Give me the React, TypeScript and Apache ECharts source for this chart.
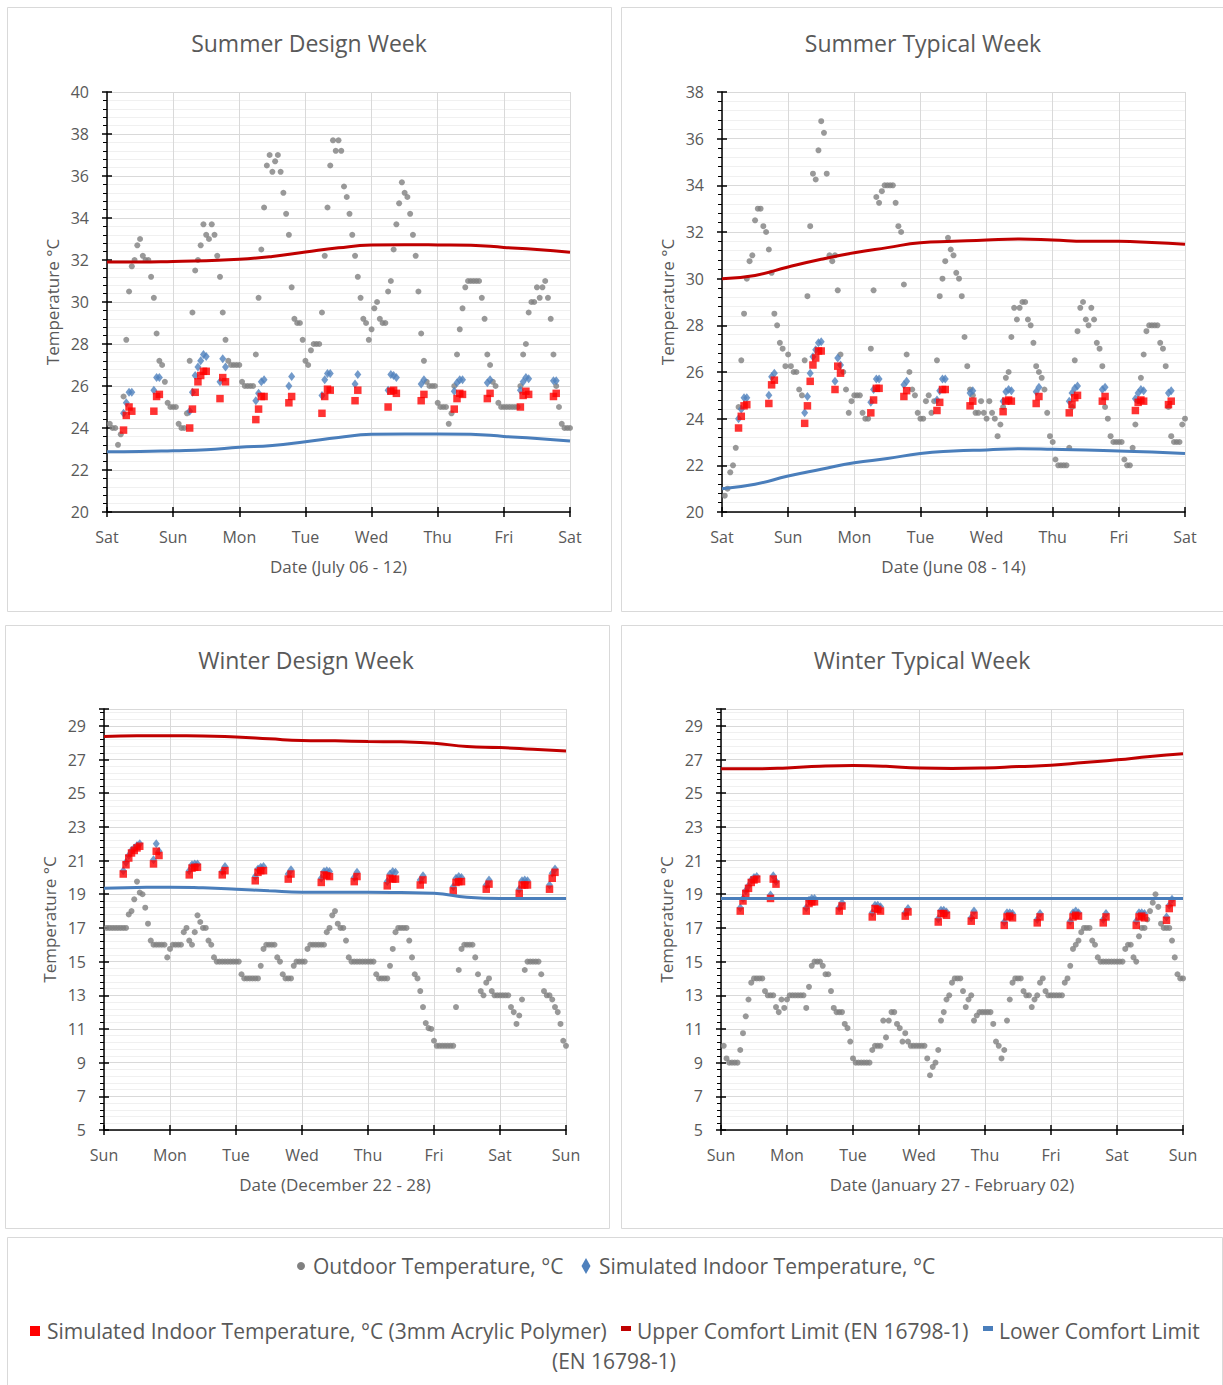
import React, { useEffect, useRef } from "react";
import * as echarts from "echarts";

// ---------- DATA ----------
const TITLES = ["Summer Design Week", "Summer Typical Week", "Winter Design Week", "Winter Typical Week"];
const X_NAMES = ["Date (July 06 - 12)", "Date (June 08 - 14)", "Date (December 22 - 28)", "Date (January 27 - February 02)"];
const DAYS_SUMMER = ["Sat", "Sun", "Mon", "Tue", "Wed", "Thu", "Fri", "Sat"];
const DAYS_WINTER = ["Sun", "Mon", "Tue", "Wed", "Thu", "Fri", "Sat", "Sun"];

// outdoor temperature, hourly, hours 1..168
const sdOutdoor = [
  24.2, 24.0, 24.0, 23.2, 23.7, 25.5, 28.2, 30.5, 31.7, 32.0,
  32.7, 33.0, 32.2, 32.0, 32.0, 31.2, 30.2, 28.5, 27.2, 27.0,
  26.2, 25.2, 25.0, 25.0, 25.0, 24.2, 24.0, 24.0, 24.7, 27.2,
  29.5, 31.5, 32.0, 32.7, 33.7, 33.2, 33.0, 33.7, 33.2, 32.2,
  31.2, 29.5, 28.2, 27.2, 27.0, 27.0, 27.0, 27.0, 26.2, 26.0,
  26.0, 26.0, 26.0, 27.5, 30.2, 32.5, 34.5, 36.5, 37.0, 36.2,
  36.7, 37.0, 36.2, 35.2, 34.2, 33.2, 30.7, 29.2, 29.0, 29.0,
  28.2, 27.2, 27.0, 27.7, 28.0, 28.0, 28.0, 29.5, 32.2, 34.5,
  36.5, 37.7, 37.2, 37.7, 37.2, 35.5, 35.0, 34.2, 33.2, 32.2,
  31.2, 30.2, 29.2, 29.0, 28.2, 28.7, 29.7, 30.0, 29.2, 29.0,
  29.0, 30.5, 31.0, 32.5, 33.7, 34.7, 35.7, 35.2, 35.0, 34.2,
  33.2, 32.2, 30.5, 28.5, 27.2, 26.2, 26.0, 26.0, 26.0, 25.2,
  25.0, 25.0, 25.0, 24.2, 24.7, 26.0, 27.5, 28.7, 29.7, 30.7,
  31.0, 31.0, 31.0, 31.0, 31.0, 30.2, 29.2, 27.5, 27.0, 26.2,
  26.0, 25.2, 25.0, 25.0, 25.0, 25.0, 25.0, 25.0, 25.0, 26.0,
  27.5, 28.0, 29.5, 30.0, 30.0, 30.7, 30.2, 30.7, 31.0, 30.2,
  29.2, 27.5, 26.0, 25.0, 24.2, 24.0, 24.0, 24.0,
];
const stOutdoor = [
  20.7, 21.0, 21.7, 22.0, 22.75, 24.5, 26.5, 28.5, 30.0, 30.75,
  31.0, 32.5, 33.0, 33.0, 32.25, 32.0, 31.25, 30.25, 28.5, 28.0,
  27.25, 27.0, 26.25, 26.75, 26.25, 26.0, 26.0, 25.25, 25.0, 26.5,
  29.25, 32.25, 34.5, 34.25, 35.5, 36.75, 36.25, 34.5, 31.0, 30.75,
  31.0, 29.5, 26.75, 26.0, 25.25, 24.25, 24.75, 25.0, 25.0, 25.0,
  24.25, 24.0, 24.0, 27.0, 29.5, 33.5, 33.25, 33.75, 34.0, 34.0,
  34.0, 34.0, 33.25, 32.25, 32.0, 29.75, 26.75, 26.0, 25.25, 25.0,
  24.25, 24.0, 24.0, 24.75, 25.0, 24.25, 24.75, 26.5, 29.25, 30.0,
  30.75, 31.75, 31.25, 31.0, 30.25, 30.0, 29.25, 27.5, 26.25, 25.25,
  25.0, 24.25, 24.25, 24.75, 24.25, 24.0, 24.75, 24.25, 24.0, 23.25,
  23.75, 24.5, 25.75, 26.0, 27.5, 28.75, 28.25, 28.75, 29.0, 29.0,
  28.25, 28.0, 27.25, 26.25, 26.0, 25.75, 25.25, 24.25, 23.25, 23.0,
  22.25, 22.0, 22.0, 22.0, 22.0, 22.75, 24.5, 26.5, 27.75, 28.75,
  29.0, 28.25, 28.0, 28.75, 28.25, 27.25, 27.0, 26.25, 24.5, 24.0,
  23.25, 23.0, 23.0, 23.0, 23.0, 22.25, 22.0, 22.0, 22.75, 23.75,
  24.75, 25.75, 26.75, 27.75, 28.0, 28.0, 28.0, 28.0, 27.25, 27.0,
  26.25, 24.5, 23.25, 23.0, 23.0, 23.0, 23.75, 24.0,
];
const wdOutdoor = [
  17.0, 17.0, 17.0, 17.0, 17.0, 17.0, 17.0, 17.0, 17.8, 18.0,
  18.7, 19.75, 19.1, 19.0, 18.2, 17.25, 16.25, 16.0, 16.0, 16.0,
  16.0, 16.0, 15.25, 15.75, 16.0, 16.0, 16.0, 16.0, 16.75, 17.0,
  16.25, 16.0, 16.75, 17.75, 17.35, 17.0, 17.0, 16.25, 16.0, 15.25,
  15.0, 15.0, 15.0, 15.0, 15.0, 15.0, 15.0, 15.0, 15.0, 14.25,
  14.0, 14.0, 14.0, 14.0, 14.0, 14.0, 14.75, 15.75, 16.0, 16.0,
  16.0, 16.0, 15.25, 15.0, 14.25, 14.0, 14.0, 14.0, 14.75, 15.0,
  15.0, 15.0, 15.0, 15.75, 16.0, 16.0, 16.0, 16.0, 16.0, 16.0,
  16.75, 17.0, 17.75, 18.0, 17.25, 17.0, 17.0, 16.25, 15.25, 15.0,
  15.0, 15.0, 15.0, 15.0, 15.0, 15.0, 15.0, 15.0, 14.25, 14.0,
  14.0, 14.0, 14.0, 14.75, 15.75, 16.75, 17.0, 17.0, 17.0, 17.0,
  16.25, 15.25, 14.25, 14.0, 13.25, 12.3, 11.35, 11.05, 11.0, 10.3,
  10.0, 10.0, 10.0, 10.0, 10.0, 10.0, 10.0, 12.3, 14.5, 15.75,
  16.0, 16.0, 16.0, 16.0, 15.25, 14.25, 13.25, 13.0, 13.75, 14.0,
  13.25, 13.0, 13.0, 13.0, 13.0, 13.0, 13.0, 12.3, 12.0, 11.3,
  11.8, 12.75, 14.5, 15.0, 15.0, 15.0, 15.0, 15.0, 14.25, 13.25,
  13.0, 13.0, 12.75, 12.3, 12.0, 11.3, 10.3, 10.0,
];
const wtOutdoor = [
  10.0, 9.25, 9.0, 9.0, 9.0, 9.0, 9.75, 10.75, 11.75, 12.75,
  13.75, 14.0, 14.0, 14.0, 14.0, 13.25, 13.0, 13.0, 13.0, 12.3,
  12.0, 12.75, 12.25, 12.75, 13.0, 13.0, 13.0, 13.0, 13.0, 13.0,
  12.25, 13.5, 14.75, 15.0, 15.0, 15.0, 14.75, 14.25, 14.25, 13.25,
  12.25, 12.0, 12.0, 12.0, 11.3, 11.05, 10.25, 9.25, 9.0, 9.0,
  9.0, 9.0, 9.0, 9.0, 9.75, 10.0, 10.0, 10.0, 11.5, 10.5,
  11.5, 12.0, 12.0, 11.3, 11.05, 10.25, 10.75, 10.25, 10.0, 10.0,
  10.0, 10.0, 10.0, 10.0, 9.25, 8.25, 8.75, 9.0, 9.75, 11.5,
  12.0, 12.75, 13.0, 13.75, 14.0, 14.0, 14.0, 13.25, 12.3, 12.75,
  13.0, 11.5, 11.8, 12.0, 12.0, 12.0, 12.0, 12.0, 11.3, 10.25,
  10.0, 9.25, 9.75, 11.5, 12.75, 13.75, 14.0, 14.0, 14.0, 13.25,
  13.0, 13.0, 12.3, 12.75, 13.0, 13.75, 14.0, 13.25, 13.0, 13.0,
  13.0, 13.0, 13.0, 13.0, 13.75, 14.0, 14.75, 15.75, 16.0, 16.25,
  16.75, 17.0, 17.0, 17.0, 16.25, 16.0, 15.25, 15.0, 15.0, 15.0,
  15.0, 15.0, 15.0, 15.0, 15.0, 15.0, 15.75, 16.0, 16.0, 15.25,
  15.0, 16.5, 17.0, 17.0, 17.5, 18.0, 18.5, 19.0, 18.25, 17.25,
  17.0, 17.0, 17.0, 16.25, 15.25, 14.25, 14.0, 14.0,
];

// occupied hours with simulated indoor temperatures
const summerHours = [
  6, 7, 8, 9, 17, 18, 19, 30, 31, 32, 33, 34, 35, 36, 41, 42, 43,
  54, 55, 56, 57, 66, 67, 78, 79, 80, 81, 90, 91, 102, 103, 104, 105, 114, 115,
  126, 127, 128, 129, 138, 139, 150, 151, 152, 153, 162, 163,
];
const sdIndoor = [
  24.7, 25.2, 25.7, 25.7, 25.8, 26.4, 26.4, 24.8, 25.7, 26.5, 26.9, 27.2, 27.5, 27.4, 26.2, 27.3, 26.9,
  25.3, 25.65, 26.2, 26.3, 26.0, 26.45, 25.55, 26.3, 26.6, 26.6, 26.1, 26.55, 25.8, 26.55, 26.5, 26.4, 26.1, 26.3,
  25.75, 26.15, 26.3, 26.3, 26.15, 26.3, 25.8, 26.2, 26.4, 26.35, 26.25, 26.25,
];
const sdAcrylic = [
  23.9, 24.6, 25.0, 24.8, 24.8, 25.5, 25.6, 24.0, 24.9, 25.7, 26.2, 26.5, 26.7, 26.7, 25.4, 26.4, 26.2,
  24.4, 24.9, 25.5, 25.5, 25.2, 25.5, 24.7, 25.5, 25.85, 25.8, 25.3, 25.8, 25.0, 25.75, 25.8, 25.65, 25.3, 25.6,
  24.9, 25.4, 25.65, 25.6, 25.4, 25.65, 25.0, 25.55, 25.75, 25.6, 25.5, 25.65,
];
const stIndoor = [
  24.0, 24.4, 24.9, 24.9, 25.0, 25.8, 25.95, 24.25, 24.95, 25.95, 26.65, 26.95, 27.25, 27.3, 25.6, 26.6, 26.3,
  24.7, 25.25, 25.7, 25.7, 25.45, 25.6, 24.8, 25.2, 25.7, 25.7, 25.1, 25.2, 24.75, 25.15, 25.25, 25.2, 25.15, 25.35,
  24.75, 25.1, 25.3, 25.4, 25.25, 25.35, 24.85, 25.1, 25.25, 25.2, 25.1, 25.2,
];
const stAcrylic = [
  23.6, 24.1, 24.55, 24.6, 24.65, 25.45, 25.65, 23.8, 24.55, 25.6, 26.3, 26.6, 26.9, 26.9, 25.25, 26.25, 25.95,
  24.25, 24.8, 25.3, 25.3, 24.95, 25.2, 24.35, 24.7, 25.25, 25.25, 24.55, 24.75, 24.3, 24.75, 24.8, 24.75, 24.65, 24.95,
  24.25, 24.6, 24.9, 25.0, 24.75, 24.95, 24.35, 24.7, 24.8, 24.75, 24.6, 24.75,
];
const winterHours = [
  7, 8, 9, 10, 11, 12, 13, 18, 19, 20, 31, 32, 33, 34, 43, 44,
  55, 56, 57, 58, 67, 68, 79, 80, 81, 82, 91, 92, 103, 104, 105, 106, 115, 116,
  127, 128, 129, 130, 139, 140, 151, 152, 153, 154, 162, 163, 164,
];
const wdIndoor = [
  20.4, 20.9, 21.3, 21.6, 21.75, 21.9, 22.0, 21.05, 22.0, 21.55, 20.4, 20.75, 20.8, 20.8, 20.35, 20.65,
  20.05, 20.5, 20.6, 20.65, 20.2, 20.45, 19.95, 20.35, 20.4, 20.35, 20.0, 20.3, 19.75, 20.2, 20.35, 20.3, 19.85, 20.1,
  19.45, 19.95, 20.05, 20.0, 19.55, 19.85, 19.3, 19.8, 19.85, 19.8, 19.55, 20.25, 20.5,
];
const wdAcrylic = [
  20.2, 20.75, 21.15, 21.45, 21.6, 21.75, 21.85, 20.8, 21.55, 21.3, 20.15, 20.55, 20.6, 20.6, 20.15, 20.4,
  19.8, 20.3, 20.4, 20.4, 19.9, 20.2, 19.7, 20.15, 20.1, 20.05, 19.75, 20.05, 19.5, 19.95, 19.9, 19.9, 19.55, 19.85,
  19.2, 19.7, 19.75, 19.75, 19.3, 19.6, 19.05, 19.55, 19.55, 19.55, 19.3, 19.95, 20.3,
];
const wtIndoor = [
  18.2, 18.75, 19.2, 19.5, 19.85, 20.0, 20.05, 18.95, 20.1, 19.75, 18.2, 18.65, 18.75, 18.75, 18.2, 18.5,
  17.9, 18.35, 18.35, 18.25, 17.9, 18.15, 17.55, 18.05, 18.05, 17.95, 17.6, 18.0, 17.35, 17.9, 17.9, 17.85, 17.5, 17.85,
  17.4, 17.9, 18.0, 17.9, 17.5, 17.85, 17.4, 17.9, 17.9, 17.85, 17.65, 18.35, 18.7,
];
const wtAcrylic = [
  18.0, 18.6, 19.05, 19.35, 19.7, 19.85, 19.9, 18.75, 19.9, 19.6, 18.0, 18.45, 18.55, 18.55, 18.0, 18.3,
  17.65, 18.15, 18.1, 18.0, 17.7, 17.95, 17.35, 17.85, 17.85, 17.75, 17.4, 17.75, 17.15, 17.65, 17.7, 17.6, 17.3, 17.65,
  17.15, 17.65, 17.75, 17.7, 17.3, 17.65, 17.15, 17.65, 17.7, 17.6, 17.45, 18.15, 18.5,
];

// comfort limits every 12 hours (0..168)
const limitHours = [0, 12, 24, 36, 48, 60, 72, 84, 96, 108, 120, 132, 144, 156, 168];
const sdUpper = [31.9, 31.9, 31.93, 31.97, 32.03, 32.17, 32.38, 32.58, 32.71, 32.73, 32.72, 32.7, 32.6, 32.5, 32.37];
const sdLower = [22.87, 22.88, 22.92, 22.97, 23.08, 23.17, 23.35, 23.55, 23.7, 23.72, 23.72, 23.7, 23.6, 23.5, 23.38];
const stUpper = [30.0, 30.14, 30.5, 30.83, 31.11, 31.33, 31.54, 31.6, 31.66, 31.7, 31.66, 31.6, 31.6, 31.55, 31.47];
const stLower = [21.0, 21.19, 21.54, 21.83, 22.11, 22.29, 22.51, 22.61, 22.66, 22.71, 22.69, 22.66, 22.61, 22.57, 22.51];
const wdUpper = [28.37, 28.41, 28.41, 28.4, 28.33, 28.23, 28.13, 28.11, 28.07, 28.05, 27.97, 27.77, 27.71, 27.61, 27.51];
const wdLower = [19.36, 19.4, 19.42, 19.38, 19.3, 19.2, 19.12, 19.12, 19.12, 19.1, 19.06, 18.82, 18.74, 18.74, 18.74];
const wtUpper = [26.45, 26.45, 26.5, 26.6, 26.64, 26.6, 26.49, 26.47, 26.5, 26.58, 26.66, 26.82, 26.98, 27.18, 27.34];
const wtLower = [18.75, 18.75, 18.75, 18.75, 18.75, 18.75, 18.75, 18.75, 18.75, 18.75, 18.75, 18.75, 18.75, 18.75, 18.75];

const Y_RANGES = [[20, 40], [20, 38], [5, 30], [5, 30]];

// ---------- CHART ----------
const FONT = '"Open Sans", "DejaVu Sans", sans-serif';
const TXT = "#595959";
const GRAY = "#808080";
const BLUE = "#4F81BD";
const RED_SQ = "#FF0000";
const RED_LINE = "#C00000";
const BLUE_LINE = "#4A7EBB";

const PANELS = [
  { outdoor: sdOutdoor, hours: summerHours, indoor: sdIndoor, acrylic: sdAcrylic, upper: sdUpper, lower: sdLower, days: DAYS_SUMMER },
  { outdoor: stOutdoor, hours: summerHours, indoor: stIndoor, acrylic: stAcrylic, upper: stUpper, lower: stLower, days: DAYS_SUMMER },
  { outdoor: wdOutdoor, hours: winterHours, indoor: wdIndoor, acrylic: wdAcrylic, upper: wdUpper, lower: wdLower, days: DAYS_WINTER },
  { outdoor: wtOutdoor, hours: winterHours, indoor: wtIndoor, acrylic: wtAcrylic, upper: wtUpper, lower: wtLower, days: DAYS_WINTER },
];

const GRIDS = [
  { left: 107, top: 92, width: 463, height: 420 },
  { left: 722, top: 92, width: 463, height: 420 },
  { left: 104, top: 709, width: 462, height: 421 },
  { left: 721, top: 709, width: 462, height: 421 },
];
const BOXES = [
  [7, 7, 604, 604],
  [621, 7, 602, 604],
  [5, 625, 604, 603],
  [621, 625, 602, 603],
];

function buildOption() {
  const grid: any[] = [];
  const xAxis: any[] = [];
  const yAxis: any[] = [];
  const xInner: any[] = [];
  const yInner: any[] = [];
  const series: any[] = [];
  const graphic: any[] = [];

  PANELS.forEach((p, i) => {
    const g = GRIDS[i];
    grid.push({ left: g.left, top: g.top, width: g.width, height: g.height, containLabel: false });
    xAxis.push({
      type: "value",
      gridIndex: i,
      min: 0,
      max: 168,
      interval: 24,
      name: X_NAMES[i],
      nameLocation: "middle",
      nameGap: 46,
      nameTextStyle: { color: TXT, fontSize: 17, fontFamily: FONT },
      axisLine: { show: true, onZero: false, lineStyle: { color: "#000", width: 1.5 } },
      axisTick: { show: true, length: 5, lineStyle: { color: "#000", width: 1.5 } },
      axisLabel: {
        color: TXT, fontSize: 16, fontFamily: FONT, margin: 17,
        formatter: (v: number) => p.days[Math.round(v / 24)] ?? "",
      },
      splitLine: { show: true, lineStyle: { color: "#D9D9D9", width: 1 } },
    });
    // inner half of the crossing ticks
    xInner.push({
      type: "value",
      gridIndex: i,
      min: 0,
      max: 168,
      interval: 24,
      position: "bottom",
      axisLine: { show: false, onZero: false },
      axisTick: { show: true, inside: true, length: 5, lineStyle: { color: "#000", width: 1.5 } },
      axisLabel: { show: false },
      splitLine: { show: false },
    });
    yAxis.push({
      type: "value",
      gridIndex: i,
      min: Y_RANGES[i][0],
      max: Y_RANGES[i][1],
      interval: 2,
      name: "Temperature °C",
      nameLocation: "middle",
      nameGap: 46,
      nameRotate: 90,
      nameTextStyle: { color: TXT, fontSize: 17, fontFamily: FONT },
      axisLine: { show: true, lineStyle: { color: "#000", width: 1.5 } },
      axisTick: { show: true, length: 5, lineStyle: { color: "#000", width: 1.5 } },
      minorTick: { show: true, splitNumber: 5, length: 4, lineStyle: { color: "#000", width: 1 } },
      axisLabel: { color: TXT, fontSize: 16, fontFamily: FONT, margin: 18, showMaxLabel: i < 2 },
      splitLine: { show: true, lineStyle: { color: "#D9D9D9", width: 1 } },
      minorSplitLine: { show: true, lineStyle: { color: "#F0F0F0", width: 1 } },
    });
    yInner.push({
      type: "value",
      gridIndex: i,
      min: Y_RANGES[i][0],
      max: Y_RANGES[i][1],
      interval: 2,
      position: "left",
      axisLine: { show: false },
      axisTick: { show: true, inside: true, length: 5, lineStyle: { color: "#000", width: 1.5 } },
      axisLabel: { show: false },
      splitLine: { show: false },
    });
    series.push({
      name: "Outdoor Temperature, °C",
      type: "scatter",
      xAxisIndex: i,
      yAxisIndex: i,
      symbol: "circle",
      symbolSize: 6,
      itemStyle: { color: GRAY },
      data: p.outdoor.map((v, k) => [k + 1, v]),
      z: 2,
    });
    series.push({
      name: "Simulated Indoor Temperature, °C",
      type: "scatter",
      xAxisIndex: i,
      yAxisIndex: i,
      symbol: "diamond",
      symbolSize: [7, 9],
      itemStyle: { color: BLUE },
      data: p.hours.map((h, k) => [h, p.indoor[k]]),
      z: 3,
    });
    series.push({
      name: "Simulated Indoor Temperature, °C (3mm Acrylic Polymer)",
      type: "scatter",
      xAxisIndex: i,
      yAxisIndex: i,
      symbol: "rect",
      symbolSize: 7.5,
      itemStyle: { color: RED_SQ },
      data: p.hours.map((h, k) => [h, p.acrylic[k]]),
      z: 4,
    });
    series.push({
      name: "Upper Comfort Limit (EN 16798-1)",
      type: "line",
      xAxisIndex: i,
      yAxisIndex: i,
      smooth: true,
      showSymbol: false,
      symbol: "none",
      lineStyle: { color: RED_LINE, width: 3 },
      data: limitHours.map((h, k) => [h, p.upper[k]]),
      z: 5,
    });
    series.push({
      name: "Lower Comfort Limit (EN 16798-1)",
      type: "line",
      xAxisIndex: i,
      yAxisIndex: i,
      smooth: true,
      showSymbol: false,
      symbol: "none",
      lineStyle: { color: BLUE_LINE, width: 3 },
      data: limitHours.map((h, k) => [h, p.lower[k]]),
      z: 5,
    });

    const b = BOXES[i];
    graphic.push({
      type: "rect",
      shape: { x: b[0] + 0.5, y: b[1] + 0.5, width: b[2], height: b[3] },
      style: { fill: "none", stroke: "#D9D9D9", lineWidth: 1 },
      z: -10,
    });
    graphic.push({
      type: "text",
      x: g.left + (i % 2 === 0 ? 202 : 201),
      y: i < 2 ? 43 : 660,
      style: { text: TITLES[i], fill: TXT, fontSize: 23, fontFamily: FONT, align: "center", verticalAlign: "middle" },
    });
  });

  // legend box
  graphic.push({
    type: "rect",
    shape: { x: 7.5, y: 1237.5, width: 1215, height: 160 },
    style: { fill: "none", stroke: "#D9D9D9", lineWidth: 1 },
    z: -10,
  });
  const lt = (text: string, x: number, y: number, align = "left") => ({
    type: "text",
    x,
    y,
    style: { text, fill: TXT, fontSize: 21, fontFamily: FONT, align, verticalAlign: "middle" },
  });
  graphic.push({ type: "circle", shape: { cx: 301, cy: 1266, r: 4 }, style: { fill: GRAY } });
  graphic.push(lt("Outdoor Temperature, °C", 313, 1266));
  graphic.push({ type: "polygon", shape: { points: [[586, 1258], [590.5, 1266], [586, 1274], [581.5, 1266]] }, style: { fill: BLUE } });
  graphic.push(lt("Simulated Indoor Temperature, °C", 599, 1266));
  graphic.push({ type: "rect", shape: { x: 30, y: 1326, width: 10, height: 10 }, style: { fill: RED_SQ } });
  graphic.push(lt("Simulated Indoor Temperature, °C (3mm Acrylic Polymer)", 47, 1331));
  graphic.push({ type: "rect", shape: { x: 621, y: 1326, width: 10, height: 5 }, style: { fill: RED_LINE } });
  graphic.push(lt("Upper Comfort Limit (EN 16798-1)", 637, 1331));
  graphic.push({ type: "rect", shape: { x: 983, y: 1326, width: 10, height: 5 }, style: { fill: BLUE_LINE } });
  graphic.push(lt("Lower Comfort Limit", 999, 1331));
  graphic.push(lt("(EN 16798-1)", 614, 1361, "center"));

  return {
    animation: false,
    backgroundColor: "#FFFFFF",
    textStyle: { fontFamily: FONT },
    grid,
    xAxis: [...xAxis, ...xInner],
    yAxis: [...yAxis, ...yInner],
    series,
    graphic,
  };
}

export default function App() {
  const ref = useRef<HTMLDivElement>(null);
  useEffect(() => {
    document.body.style.margin = "0";
    if (!ref.current) return;
    const chart = echarts.init(ref.current, undefined, { renderer: "svg" });
    chart.setOption(buildOption() as any);
    return () => chart.dispose();
  }, []);
  return <div ref={ref} style={{ width: 1223, height: 1385 }} />;
}
